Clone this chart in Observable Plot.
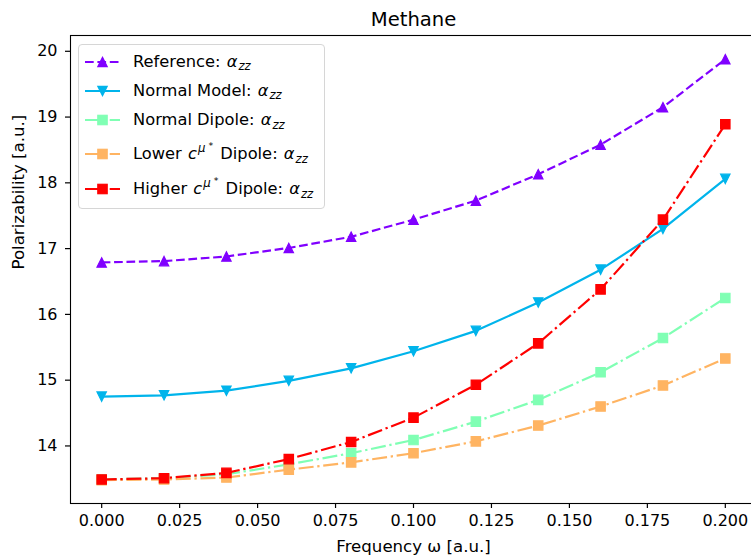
<!DOCTYPE html>
<html>
<head>
<meta charset="utf-8">
<script src="https://cdn.jsdelivr.net/npm/d3@7"></script>
<script src="https://cdn.jsdelivr.net/npm/@observablehq/plot@0.6"></script>
<style>
  body { margin: 0; background: #fff; }
  #wrap { position: relative; width: 751px; height: 557px; font-family: "DejaVu Sans", sans-serif; }
  #legend { position: absolute; left: 78px; top: 44px; width: 247px; height: 165px;
    border: 1px solid #d6d6d6; border-radius: 4px; background: rgba(255,255,255,0.8); box-sizing: border-box; }
  .row { position: absolute; left: 0; height: 30px; width: 100%; }
  .row svg { position: absolute; left: 6px; top: 0; }
  .row .lab { position: absolute; left: 54px; top: 50%; transform: translateY(-50%); font-size: 16.3px; color: #000; white-space: nowrap; line-height: 1; }
  .m { font-style: italic; margin-left: 1px; }
  .sub { font-size: 0.72em; position: relative; top: 0.3em; font-style: italic; margin-left: 1px; }
  .sup { font-size: 0.72em; position: relative; top: -0.6em; font-style: italic; margin-left: 1px; }
  .sup2 { font-size: 0.8em; position: relative; top: -0.35em; font-style: normal; margin-left: 3px; margin-right: 2px; }
</style>
</head>
<body>
<div id="wrap"></div>
<script>
// ---- data ----
const omega = [0, 0.02, 0.04, 0.06, 0.08, 0.10, 0.12, 0.14, 0.16, 0.18, 0.20];
const referenceVals = [16.79, 16.81, 16.88, 17.01, 17.18, 17.44, 17.73, 18.13, 18.58, 19.15, 19.88];
const normalModelVals = [14.75, 14.77, 14.84, 14.99, 15.18, 15.44, 15.75, 16.18, 16.68, 17.30, 18.06];
const normalDipoleVals = [13.49, 13.51, 13.57, 13.72, 13.89, 14.09, 14.37, 14.70, 15.12, 15.64, 16.25];
const lowerDipoleVals = [13.48, 13.49, 13.52, 13.64, 13.75, 13.89, 14.07, 14.31, 14.60, 14.92, 15.33];
const higherDipoleVals = [13.49, 13.51, 13.59, 13.80, 14.06, 14.43, 14.93, 15.56, 16.38, 17.44, 18.89];
const xTicks = [0, 0.025, 0.05, 0.075, 0.1, 0.125, 0.15, 0.175, 0.2];
const yTicks = [14, 15, 16, 17, 18, 19, 20];
const titleText = "Methane";
const xLabel = "Frequency ω [a.u.]";
const yLabel = "Polarizability [a.u.]";

const colors = { ref: "#8000ff", nm: "#00b4eb", nd: "#80ffb4", lo: "#ffb462", hi: "#ff0000" };
const dashed = "8.7,3.7";
const dashdot = "15,3.7,2.3,3.7";

// matplotlib-like markers, centered on bounding box
const triUp = { draw(ctx, size) { const h = Math.sqrt(size / Math.PI); ctx.moveTo(0, -h); ctx.lineTo(h, h); ctx.lineTo(-h, h); ctx.closePath(); } };
const triDown = { draw(ctx, size) { const h = Math.sqrt(size / Math.PI); ctx.moveTo(0, h); ctx.lineTo(h, -h); ctx.lineTo(-h, -h); ctx.closePath(); } };
const sq = { draw(ctx, size) { const h = Math.sqrt(size / Math.PI); ctx.rect(-h, -h, 2 * h, 2 * h); } };

const series = [
  { vals: referenceVals, color: colors.ref, dash: dashed, sym: triUp },
  { vals: normalModelVals, color: colors.nm, dash: null, sym: triDown },
  { vals: normalDipoleVals, color: colors.nd, dash: dashdot, sym: sq },
  { vals: lowerDipoleVals, color: colors.lo, dash: dashdot, sym: sq },
  { vals: higherDipoleVals, color: colors.hi, dash: dashdot, sym: sq }
];

const marks = [];
for (const s of series) {
  const rows = omega.map((x, i) => ({ x, y: s.vals[i] }));
  marks.push(Plot.line(rows, { x: "x", y: "y", stroke: s.color, strokeWidth: 2.2, strokeDasharray: s.dash ?? undefined, strokeLinecap: "butt" }));
  marks.push(Plot.dot(rows, { x: "x", y: "y", symbol: () => s.sym, r: 4.7, fill: s.color, stroke: s.color, strokeWidth: 1.2 }));
}

const chart = Plot.plot({
  width: 751,
  height: 557,
  marginLeft: 70,
  marginRight: -5,
  marginTop: 35,
  marginBottom: 54,
  style: { fontFamily: "DejaVu Sans", fontSize: "16px", color: "#000", background: "#fff" },
  x: { domain: [-0.01, 0.21] },
  y: { domain: [13.125, 20.24] },
  marks: [
    Plot.axisX(xTicks, { tickFormat: d3.format(".3f"), tickSize: 5, tickPadding: 6, label: null, strokeWidth: 1.2 }),
    Plot.axisY(yTicks, { tickFormat: d => String(d), tickSize: 5, tickPadding: 8, label: null, strokeWidth: 1.2 }),
    ...marks,
    Plot.frame({ stroke: "#000", strokeWidth: 1.1 }),
    Plot.text([titleText], { text: d => d, frameAnchor: "top", dy: -16, fontSize: 19.6, lineAnchor: "middle", fill: "#000" }),
    Plot.text([xLabel], { text: d => d, frameAnchor: "bottom", dy: 43.5, fontSize: 16.6, lineAnchor: "middle", fill: "#000", ariaLabel: "xlabel" }),
    Plot.text([yLabel], { text: d => d, frameAnchor: "left", dx: -52, rotate: -90, fontSize: 16.6, lineAnchor: "middle", fill: "#000" })
  ]
});

const wrap = document.getElementById("wrap");
wrap.appendChild(chart);
const xl = chart.querySelector('g[aria-label="xlabel"] text');
if (xl) xl.innerHTML = 'Frequency <tspan font-style="italic">ω</tspan> [a.u.]';

// ---- legend ----
const alpha = '<span class="m">α</span><span class="sub">zz</span>';
const cmu = '<span class="m">c</span><span class="sup">μ<span class="sup2">*</span></span>';
const legendItems = [
  { label: 'Reference: ' + alpha, color: colors.ref, dash: dashed, sym: "up", cy: 17.7 },
  { label: 'Normal Model: ' + alpha, color: colors.nm, dash: null, sym: "down", cy: 46.7 },
  { label: 'Normal Dipole: ' + alpha, color: colors.nd, dash: dashdot, sym: "sq", cy: 76 },
  { label: 'Lower ' + cmu + ' Dipole: ' + alpha, color: colors.lo, dash: dashdot, sym: "sq", cy: 110.3 },
  { label: 'Higher ' + cmu + ' Dipole: ' + alpha, color: colors.hi, dash: dashdot, sym: "sq", cy: 145.3 }
];
const leg = document.createElement("div");
leg.id = "legend";
for (const it of legendItems) {
  const row = document.createElement("div");
  row.className = "row";
  row.style.top = (it.cy - 15 - 1) + "px";
  const h = 4.7;
  let mk;
  if (it.sym === "up") mk = `<path d="M17.5,${15 - h}L${17.5 + h},${15 + h}L${17.5 - h},${15 + h}Z" fill="${it.color}" stroke="${it.color}" stroke-width="1.2"/>`;
  else if (it.sym === "down") mk = `<path d="M17.5,${15 + h}L${17.5 + h},${15 - h}L${17.5 - h},${15 - h}Z" fill="${it.color}" stroke="${it.color}" stroke-width="1.2"/>`;
  else mk = `<rect x="${17.5 - h}" y="${15 - h}" width="${2 * h}" height="${2 * h}" fill="${it.color}" stroke="${it.color}" stroke-width="1.2"/>`;
  row.innerHTML = `<svg width="35" height="30"><line x1="0" x2="35" y1="15" y2="15" stroke="${it.color}" stroke-width="2.2" ${it.dash ? `stroke-dasharray="${it.dash}"` : ""}/>${mk}</svg><span class="lab">${it.label}</span>`;
  leg.appendChild(row);
}
wrap.appendChild(leg);
</script>
</body>
</html>
